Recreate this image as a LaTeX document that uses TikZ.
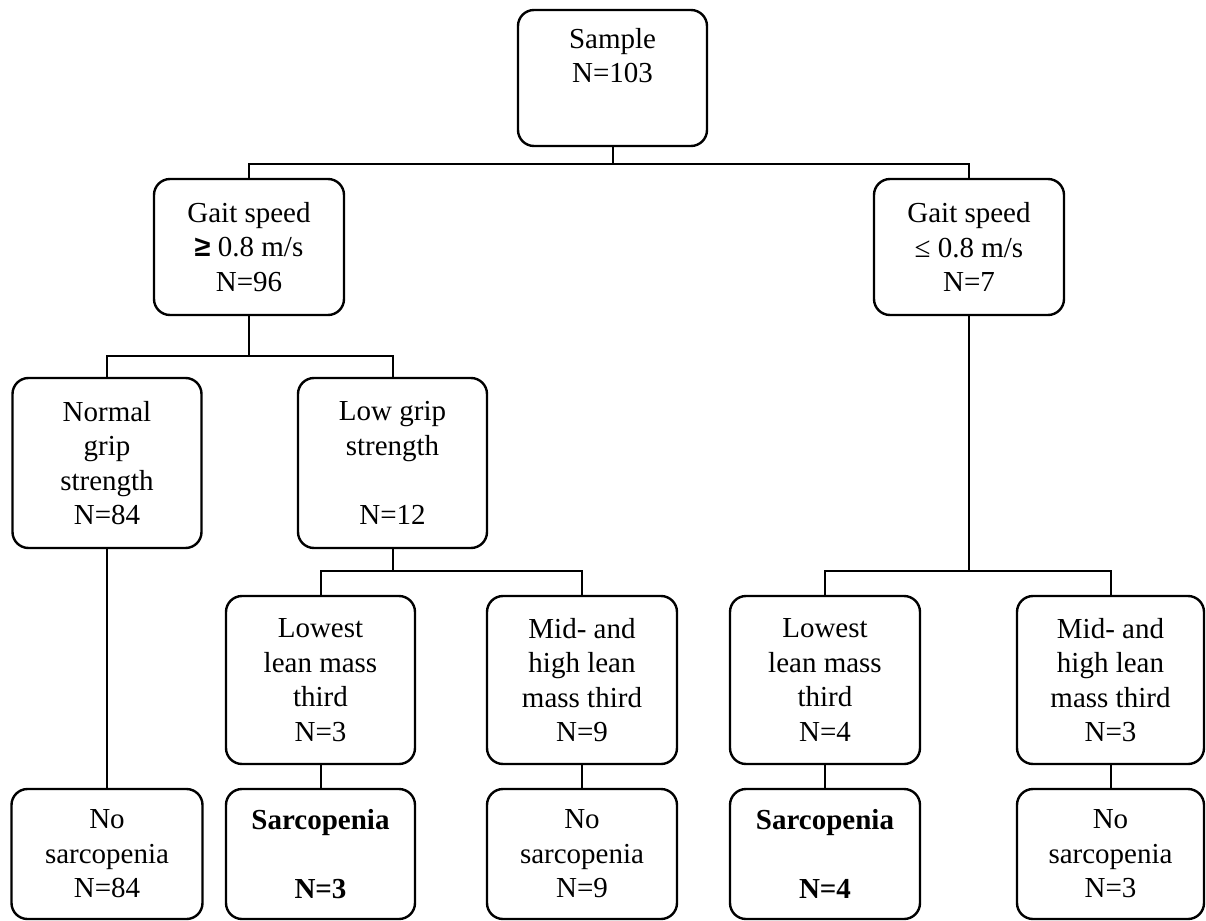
\documentclass[tikz,border=0pt]{standalone}
\usepackage{fontspec}
\setmainfont{Liberation Serif}
\newfontfamily\symfont{Liberation Sans}
\tikzset{
  box/.style={draw, line width=1.2pt, rounded corners=8pt, align=center, inner sep=0pt,
    font=\fontsize{14.5}{17.25}\selectfont},
  conn/.style={line width=1pt},
}
\begin{document}
\begin{tikzpicture}[x=0.5pt,y=-0.5pt]
\useasboundingbox (0,0) rectangle (1206,921);
% row 1
\node[box, minimum width=94.5pt, minimum height=68pt] (S) at (612.5,78) {Sample\\N=103\\\strut};
% row 2
\node[box, minimum width=95pt, minimum height=68pt] (G1) at (249,247) {Gait speed\\{\symfont\bfseries ≥} 0.8 m/s\\N=96};
\node[box, minimum width=95pt, minimum height=68pt] (G2) at (969,247) {Gait speed\\≤ 0.8 m/s\\N=7};
% row 3
\node[box, minimum width=94.5pt, minimum height=85pt] (NG) at (107,463) {Normal\\grip\\strength\\N=84};
\node[box, minimum width=94.5pt, minimum height=85pt] (LG) at (392.5,463) {Low grip\\strength\\\strut\\N=12};
% row 4
\node[box, minimum width=94.5pt, minimum height=84pt] (L1) at (320.5,680) {Lowest\\lean mass\\third\\N=3};
\node[box, minimum width=95pt, minimum height=84pt] (M1) at (582,680) {Mid- and\\high lean\\mass third\\N=9};
\node[box, minimum width=95pt, minimum height=84pt] (L2) at (825,680) {Lowest\\lean mass\\third\\N=4};
\node[box, minimum width=93.5pt, minimum height=84pt] (M2) at (1110.5,680) {Mid- and\\high lean\\mass third\\N=3};
% row 5
\node[box, minimum width=95.5pt, minimum height=65pt] (B1) at (107,854) {No\\sarcopenia\\N=84};
\node[box, minimum width=94.5pt, minimum height=65pt] (B2) at (320.5,854) {\textbf{Sarcopenia}\\\strut\\\textbf{N=3}};
\node[box, minimum width=95pt, minimum height=65pt] (B3) at (582,854) {No\\sarcopenia\\N=9};
\node[box, minimum width=95pt, minimum height=65pt] (B4) at (825,854) {\textbf{Sarcopenia}\\\strut\\\textbf{N=4}};
\node[box, minimum width=93.5pt, minimum height=65pt] (B5) at (1110.5,854) {No\\sarcopenia\\N=3};
% connectors
\draw[conn] (S.south) -- (S.south |- 0,164) -| (G1.north);
\draw[conn] (S.south |- 0,164) -| (G2.north);
\draw[conn] (G1.south) -- (G1.south |- 0,356) -| (NG.north);
\draw[conn] (G1.south |- 0,356) -| (LG.north);
\draw[conn] (LG.south) -- (LG.south |- 0,571) -| (L1.north);
\draw[conn] (LG.south |- 0,571) -| (M1.north);
\draw[conn] (G2.south) -- (G2.south |- 0,571) -| (L2.north);
\draw[conn] (G2.south |- 0,571) -| (M2.north);
\draw[conn] (NG.south) -- (B1.north);
\draw[conn] (L1.south) -- (B2.north);
\draw[conn] (M1.south) -- (B3.north);
\draw[conn] (L2.south) -- (B4.north);
\draw[conn] (M2.south) -- (B5.north);
\end{tikzpicture}
\end{document}
